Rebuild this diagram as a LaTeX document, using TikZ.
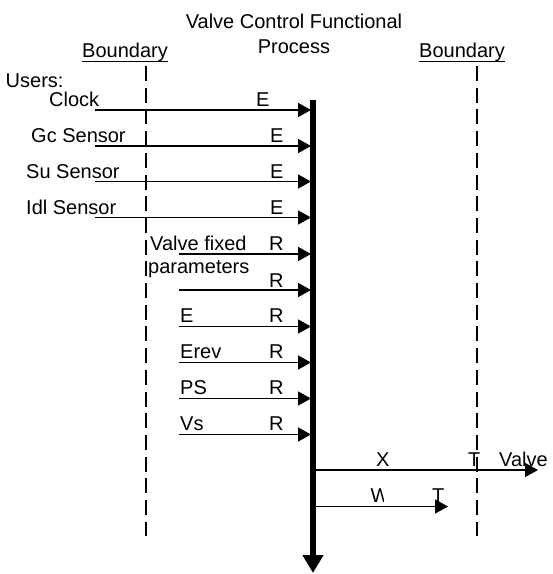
\documentclass[tikz,border=0pt]{standalone}
\usepackage{fontspec}
\setmainfont{Liberation Sans}
\usetikzlibrary{arrows.meta}
\begin{document}
\begin{tikzpicture}[x=1pt,y=-1pt,
  lbl/.style={anchor=base west,inner sep=0pt,font=\fontsize{20}{24}\selectfont},
  ttl/.style={anchor=base,inner sep=0pt,font=\fontsize{20}{24}\selectfont},
  flow/.style={line width=1.6pt,-{Triangle[length=13pt,width=14pt]}},
  bnd/.style={line width=1.6pt,dash pattern=on 15pt off 6.7pt},
  proc/.style={line width=5.5pt,-{Triangle[length=18pt,width=20pt]}}]
\useasboundingbox (0,0) rectangle (553,574);

% title
\node[ttl] (t1) at (294,28) {Valve Control Functional};
\node[ttl] (t2) at (294,53) {Process};
\node[lbl] (bl) at (82,57) {Boundary};
\node[lbl] (br) at (419,57) {Boundary};
\draw[line width=1.3pt] (bl.base west) ++(0,4.5) coordinate (bl1) -- (bl1 -| bl.base east);
\draw[line width=1.3pt] (br.base west) ++(0,4.5) coordinate (br1) -- (br1 -| br.base east);

% boundaries
\coordinate (lb1) at (146,66); \coordinate (lb2) at (146,536);
\coordinate (rb1) at (477,66); \coordinate (rb2) at (477,536);
\draw[bnd] (lb1) -- (lb2);
\draw[bnd] (rb1) -- (rb2);

% process line
\coordinate (ptop) at (313,100);
\coordinate (pbot) at (313,573);
\draw[proc] (ptop) -- (pbot);

\node[lbl] (users) at (5.5,87) {Users:};

% entries
\node[lbl] (clk) at (49,106.5) {Clock};
\node[lbl] (gc) at (31,142.5) {Gc Sensor};
\node[lbl] (su) at (26,178) {Su Sensor};
\node[lbl] (idl) at (26,214) {Idl Sensor};
\node[lbl] (e1) at (256,106.5) {E};
\node[lbl] (e2) at (270,142.5) {E};
\node[lbl] (e3) at (270,178) {E};
\node[lbl] (e4) at (270,214) {E};
\foreach \n/\y in {a/110,b/146,c/181.5,d/217.5}{
  \coordinate (s\n) at (95,\y);
  \coordinate (d\n) at (311,\y);
  \draw[flow] (s\n) -- (d\n);
}

% reads
\node[lbl] (vf) at (150,250) {Valve fixed};
\node[lbl] (pa) at (148,273) {parameters};
\node[lbl] (r1) at (269,250) {R};
\node[lbl] (r2) at (269,287) {R};
\node[lbl] (le) at (180,322.5) {E};
\node[lbl] (ler) at (180,358.5) {Erev};
\node[lbl] (lps) at (180,394.5) {PS};
\node[lbl] (lvs) at (180,430.5) {Vs};
\node[lbl] (r3) at (269,322.5) {R};
\node[lbl] (r4) at (269,358.5) {R};
\node[lbl] (r5) at (269,394.5) {R};
\node[lbl] (r6) at (269,430.5) {R};
\foreach \n/\y in {e/254,f/290,g/326.5,h/362.5,i/398.5,j/434.5}{
  \coordinate (s\n) at (179,\y);
  \coordinate (d\n) at (311,\y);
  \draw[flow] (s\n) -- (d\n);
}

% exits
\coordinate (sx) at (316,470);
\coordinate (dx) at (538,470);
\draw[flow] (sx) -- (dx);
\coordinate (sw) at (316,506.5);
\coordinate (dw) at (448,506.5);
\draw[flow] (sw) -- (dw);
\node[lbl] (lx) at (376,466) {X};
\node[lbl] (tx) at (468,466) {T};
\node[lbl] (lv) at (499,466) {Valve};
\begin{scope}
  \clip (360,480) rectangle (383.5,505);
  \node[lbl] (lw) at (370.5,502) {W};
\end{scope}
\node[lbl] (tw) at (432,502) {T};
\end{tikzpicture}
\end{document}
